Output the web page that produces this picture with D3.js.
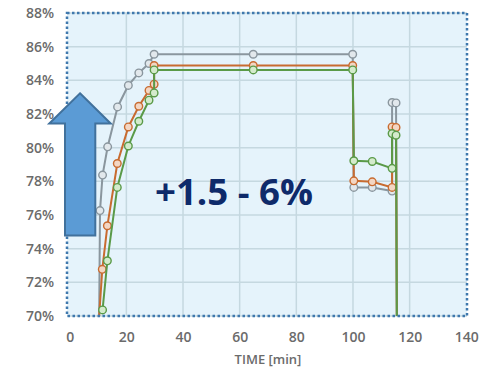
<!DOCTYPE html>
<html><head><meta charset="utf-8">
<script src="https://cdn.jsdelivr.net/npm/d3@7"></script>
<style>body{margin:0;background:#fff}svg{display:block}</style>
</head><body>
<svg id="c" width="483" height="374"></svg>
<script>
// Data (time in min, efficiency in %)
const grayX   = [10.35, 10.7, 11.6, 13.4, 16.9, 20.7, 24.4, 28.0, 29.8, 64.8, 99.9, 100.3, 106.8, 113.8, 113.8, 115.2, 115.5];
const grayY   = [69,    76.26, 78.37, 80.05, 82.42, 83.7, 84.44, 85.0, 85.55, 85.55, 85.55, 77.64, 77.64, 77.42, 82.68, 82.66, 69];
const orangeX = [10.0, 11.5, 13.3, 16.8, 20.7, 24.4, 28.0, 29.8, 29.8, 64.8, 99.9, 100.3, 106.8, 113.8, 113.8, 115.2, 115.5];
const orangeY = [69,   72.77, 75.36, 79.06, 81.23, 82.46, 83.4, 83.77, 84.88, 84.88, 84.88, 78.03, 77.97, 77.64, 81.23, 81.2, 69];
const greenX  = [11.6, 13.3, 16.8, 20.7, 24.4, 28.0, 29.8, 29.8, 64.8, 99.9, 100.3, 106.8, 113.8, 113.8, 115.2, 115.5];
const greenY  = [70.36, 73.28, 77.64, 80.1, 81.57, 82.82, 83.25, 84.62, 84.62, 84.62, 79.22, 79.18, 78.77, 80.84, 80.74, 69];
const xTicks = [0, 20, 40, 60, 80, 100, 120, 140];
const yTicks = [70, 72, 74, 76, 78, 80, 82, 84, 86, 88];
const xTitle = "TIME [min]";
const annotation = "+1.5 - 6%";

const series = [
  {x: grayX, y: grayY, stroke: "#8a969e", fill: "#e2e8ec"},
  {x: orangeX, y: orangeY, stroke: "#c86b30", fill: "#f3d6c3"},
  {x: greenX, y: greenY, stroke: "#5a9a48", fill: "#d4ebcc"}
];

const svg = d3.select("#c");
const x = d3.scaleLinear().domain([0, 140]).range([69.7, 466.3]);
const y = d3.scaleLinear().domain([70, 88]).range([316, 13]);
const L = 67, R = 467, T = 13, B = 316;

svg.append("rect").attr("x", L).attr("y", T).attr("width", R - L).attr("height", B - T).attr("fill", "#e5f3fb");

// gridlines
svg.append("g").selectAll("line").data(yTicks).join("line")
  .attr("x1", L).attr("x2", R).attr("y1", d => y(d)).attr("y2", d => y(d))
  .attr("stroke", "#c5d8e0").attr("stroke-width", 1.5);
svg.append("g").selectAll("line").data(xTicks.slice(1, -1)).join("line")
  .attr("x1", d => x(d)).attr("x2", d => x(d)).attr("y1", T).attr("y2", B)
  .attr("stroke", "#c5d8e0").attr("stroke-width", 1.5);

// axes labels
const yAxis = d3.axisLeft(y).tickValues(yTicks).tickFormat(d => d + "%").tickSize(0).tickPadding(0);
const ga = svg.append("g").attr("transform", "translate(54,0)").call(yAxis);
ga.select(".domain").remove();
ga.selectAll("text").attr("font-family", "Open Sans, sans-serif").attr("font-size", 14).attr("font-weight", 600).attr("fill", "#6b6b6b");

const xAxis = d3.axisBottom(x).tickValues(xTicks).tickSize(0).tickPadding(0);
const gx = svg.append("g").attr("transform", "translate(0,332)").call(xAxis);
gx.select(".domain").remove();
gx.selectAll("text").attr("font-family", "Open Sans, sans-serif").attr("font-size", 14).attr("font-weight", 600).attr("fill", "#6b6b6b");

svg.append("text").attr("x", x(70)).attr("y", 364).attr("text-anchor", "middle")
  .attr("font-family", "Open Sans, sans-serif").attr("font-size", 13).attr("font-weight", 600).attr("fill", "#6b6b6b")
  .text(xTitle);

// clip
svg.append("clipPath").attr("id", "pc").append("rect").attr("x", L).attr("y", T - 6).attr("width", R - L).attr("height", B - T + 6);

const plot = svg.append("g").attr("clip-path", "url(#pc)");
const line = d3.line().x(d => x(d[0])).y(d => y(d[1]));
series.forEach(s => {
  const pts = s.x.map((v, i) => [v, s.y[i]]);
  plot.append("path").attr("d", line(pts)).attr("fill", "none").attr("stroke", s.stroke).attr("stroke-width", 2);
  plot.append("g").selectAll("circle").data(pts.filter(p => p[1] >= 70)).join("circle")
    .attr("cx", d => x(d[0])).attr("cy", d => y(d[1])).attr("r", 3.8)
    .attr("fill", s.fill).attr("stroke", s.stroke).attr("stroke-width", 1.4);
});

// dotted border
svg.append("rect").attr("x", L).attr("y", T).attr("width", R - L).attr("height", B - T)
  .attr("fill", "none").attr("stroke", "#3f78ad").attr("stroke-width", 2.5).attr("stroke-dasharray", "2.5,2.5");

// arrow
const ah = d3.path();
ah.moveTo(80, 93.3); ah.lineTo(110.7, 123.5); ah.lineTo(95.3, 123.5); ah.lineTo(95.3, 235.5);
ah.lineTo(65, 235.5); ah.lineTo(65, 123.5); ah.lineTo(49.3, 123.5); ah.closePath();
svg.append("path").attr("d", ah.toString()).attr("fill", "#5b9bd5").attr("stroke", "#41719c").attr("stroke-width", 2).attr("stroke-linejoin", "miter");

// annotation
const t = svg.append("text").attr("x", 155).attr("y", 205)
  .attr("font-family", "Open Sans, sans-serif").attr("font-weight", 700).attr("font-size", 36).attr("fill", "#0e2a6a")
  .text(annotation);
const w = t.node().getComputedTextLength();
t.attr("font-size", 36 * 158 / w);
</script>
</body></html>
